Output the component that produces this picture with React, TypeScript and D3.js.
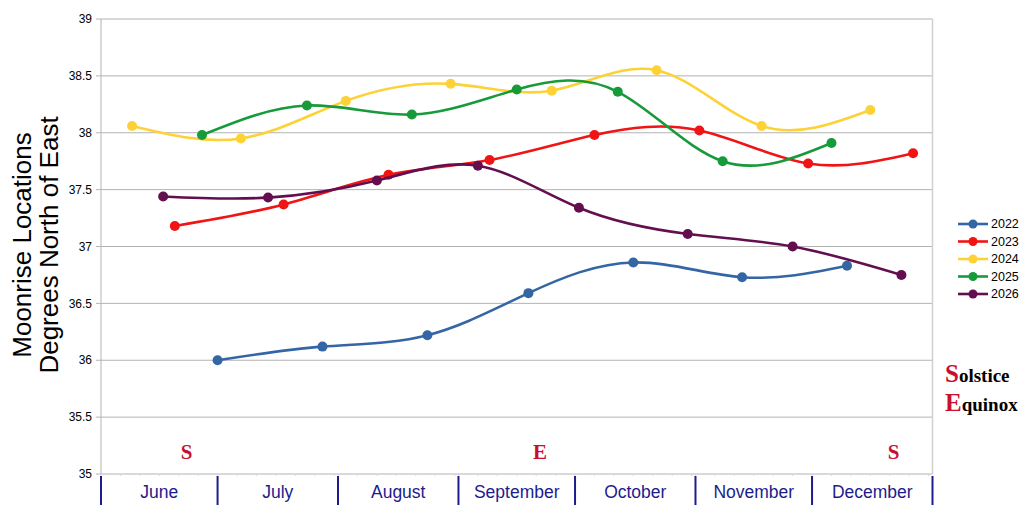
import React from "react";
import * as d3 from "d3";

const W = 1030;
const H = 520;

// max-north moonrise dates (month-day) and azimuth values, per year
const years = ["2022", "2023", "2024", "2025", "2026"];
const colors = ["#3465a4", "#f01414", "#fdd236", "#179a3a", "#630e4f"];

const dates2022 = ["07-01", "07-28", "08-24", "09-19", "10-16", "11-13", "12-10"];
const vals2022 = [36.0, 36.12, 36.22, 36.59, 36.86, 36.73, 36.83];

const dates2023 = ["06-20", "07-18", "08-14", "09-09", "10-06", "11-02", "11-30", "12-27"];
const vals2023 = [37.18, 37.37, 37.63, 37.76, 37.98, 38.02, 37.73, 37.82];

const dates2024 = ["06-09", "07-07", "08-03", "08-30", "09-25", "10-22", "11-18", "12-16"];
const vals2024 = [38.06, 37.95, 38.28, 38.43, 38.37, 38.55, 38.06, 38.2];

const dates2025 = ["06-27", "07-24", "08-20", "09-16", "10-12", "11-08", "12-06"];
const vals2025 = [37.98, 38.24, 38.16, 38.38, 38.36, 37.75, 37.91];

const dates2026 = ["06-17", "07-14", "08-11", "09-06", "10-02", "10-30", "11-26", "12-24"];
const vals2026 = [37.44, 37.43, 37.58, 37.71, 37.34, 37.11, 37.0, 36.75];

const months = ["June", "July", "August", "September", "October", "November", "December"];
const yTicks = [35, 35.5, 36, 36.5, 37, 37.5, 38, 38.5, 39];

// solstice / equinox marks
const markDates = ["06-23", "09-22", "12-22"];
const markLetters = ["S", "E", "S"];

const parse = d3.utcParse("%Y-%m-%d");
const toDate = (md: string) => parse("2022-" + md) as Date;

const seriesDates = [dates2022, dates2023, dates2024, dates2025, dates2026];
const seriesVals = [vals2022, vals2023, vals2024, vals2025, vals2026];

const series = years.map((y, i) => ({
  name: y,
  color: colors[i],
  points: seriesDates[i].map((d, j) => ({ date: toDate(d), value: seriesVals[i][j] })),
}));

const left = 101;
const right = 932.5;
const top = 19;
const bottom = 474;

export default function App() {
  const x = d3
    .scaleUtc()
    .domain([toDate("06-01"), parse("2023-01-01") as Date])
    .range([left, right]);
  const y = d3.scaleLinear().domain([35, 39]).range([bottom, top]);

  const line = d3
    .line<{ date: Date; value: number }>()
    .x((d) => x(d.date))
    .y((d) => y(d.value))
    .curve(d3.curveNatural);

  const monthStarts = d3.utcMonth.range(toDate("06-01"), parse("2023-01-02") as Date);
  const minorTicks = d3.utcDay.every(5)!.range(toDate("06-01"), parse("2023-01-01") as Date);
  const font = "'Liberation Sans', Arial, sans-serif";
  const navy = "#1c1c8e";
  const crimson = "#c8102e";

  return (
    <svg
      width={W}
      height={H}
      style={{ position: "absolute", left: 0, top: 0, background: "#fff" }}
      fontFamily={font}
    >
      {/* grid */}
      {yTicks.map((t) => (
        <g key={t}>
          <line x1={left} x2={right} y1={y(t)} y2={y(t)} stroke="#b3b3b3" strokeWidth={1} />
          <line x1={left - 5} x2={left} y1={y(t)} y2={y(t)} stroke="#b3b3b3" strokeWidth={1} />
          <text x={left - 9} y={y(t)} dy="0.35em" textAnchor="end" fontSize={12} fill="#000">
            {t}
          </text>
        </g>
      ))}
      <line x1={left} x2={left} y1={top} y2={bottom} stroke="#b3b3b3" />
      <line x1={right} x2={right} y1={top} y2={bottom} stroke="#d0d0d0" strokeWidth={1.5} />
      {minorTicks.map((d, i) => (
        <line key={i} x1={x(d)} x2={x(d)} y1={bottom} y2={bottom + 2} stroke="#d8d8d8" />
      ))}

      {/* month dividers and labels */}
      {monthStarts.map((d, i) => (
        <line
          key={"m" + i}
          x1={x(d)}
          x2={x(d)}
          y1={bottom + 2}
          y2={bottom + 31}
          stroke={navy}
          strokeWidth={2}
        />
      ))}
      {months.map((m, i) => (
        <text
          key={m}
          x={(x(monthStarts[i]) + x(monthStarts[i + 1])) / 2}
          y={498}
          textAnchor="middle"
          fontSize={17.5}
          fill={navy}
        >
          {m}
        </text>
      ))}

      {/* S / E marks */}
      {markDates.map((d, i) => (
        <text
          key={"s" + i}
          x={x(toDate(d))}
          y={459}
          textAnchor="middle"
          fontSize={21}
          fontWeight="bold"
          fontFamily="'Liberation Serif', 'Times New Roman', serif"
          fill={crimson}
        >
          {markLetters[i]}
        </text>
      ))}

      {/* series */}
      {series.map((s) => (
        <g key={s.name}>
          <path d={line(s.points) || ""} fill="none" stroke={s.color} strokeWidth={2.6} />
          {s.points.map((p, j) => (
            <circle key={j} cx={x(p.date)} cy={y(p.value)} r={5} fill={s.color} />
          ))}
        </g>
      ))}

      {/* y axis title */}
      <g transform="translate(0,245) rotate(-90)">
        <text x={0} y={31} textAnchor="middle" fontSize={26} fill="#000">
          Moonrise Locations
        </text>
        <text x={0} y={58} textAnchor="middle" fontSize={26} fill="#000">
          Degrees North of East
        </text>
      </g>

      {/* legend */}
      {series.map((s, i) => (
        <g key={"l" + s.name} transform={`translate(958,${224 + i * 17.5})`}>
          <line x1={0} x2={30} y1={0} y2={0} stroke={s.color} strokeWidth={2.6} />
          <circle cx={15} cy={0} r={4.5} fill={s.color} />
          <text x={33} y={0} dy="0.35em" fontSize={12.5} fill="#000">
            {s.name}
          </text>
        </g>
      ))}

      <g fontFamily="'Liberation Serif', 'Times New Roman', serif" fontWeight="bold">
        <text x={945} y={382} fontSize={19} fill="#000">
          <tspan fill={crimson} fontSize={25}>S</tspan>olstice
        </text>
        <text x={945} y={411} fontSize={19} fill="#000">
          <tspan fill={crimson} fontSize={25}>E</tspan>quinox
        </text>
      </g>
    </svg>
  );
}
